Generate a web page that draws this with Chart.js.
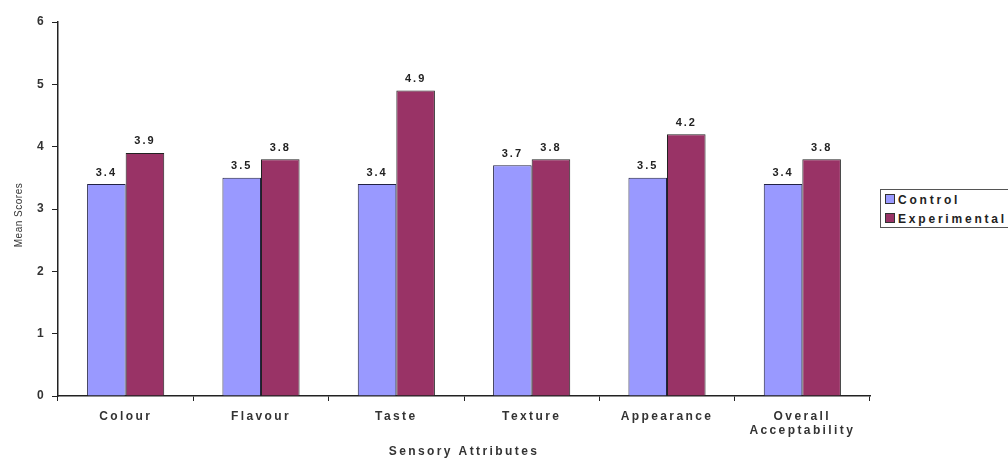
<!DOCTYPE html>
<html><head><meta charset="utf-8">
<script src="https://cdn.jsdelivr.net/npm/chart.js@4/dist/chart.umd.min.js"></script>
<style>
html,body{margin:0;padding:0;background:#fff;}
#wrap{position:relative;width:1008px;height:459px;overflow:hidden;}
#legend{position:absolute;left:880px;top:189px;width:150px;height:39px;border:1px solid #555;box-sizing:border-box;font:bold 12px "Liberation Sans",Arial,sans-serif;color:#222;letter-spacing:2.8px;padding:1px 0 0 4px;background:#fff;}
#legend div{height:19px;line-height:19px;white-space:nowrap;}
#legend span{display:inline-block;width:8px;height:8px;border:1px solid #333;margin-right:3px;vertical-align:0px;}
</style></head>
<body><div id="wrap"><canvas id="c" width="1008" height="459"></canvas>
<div id="legend"></div></div>
<script>
const categories = ["Colour","Flavour","Taste","Texture","Appearance",["Overall","Acceptability"]];
const seriesNames = ["Control","Experimental"];
const controlValues = [3.4,3.5,3.4,3.7,3.5,3.4];
const experimentalValues = [3.9,3.8,4.9,3.8,4.2,3.8];
const yTicks = [0,1,2,3,4,5,6];
const xTitle = "Sensory Attributes";
const yTitle = "Mean Scores";
const colors = ["#9999FF","#993366"];
const FONT = '"Liberation Sans", Arial, sans-serif';

const lg = document.getElementById('legend');
seriesNames.forEach((n,i)=>{const d=document.createElement('div');d.innerHTML='<span style="background:'+colors[i]+'"></span>'+n;lg.appendChild(d);});

const spacing = {
  id:'spacing',
  beforeDraw(chart){ chart.ctx.letterSpacing='2.4px'; },
  afterDraw(chart){
    const ctx=chart.ctx;ctx.save();
    ctx.letterSpacing='0.5px';
    ctx.font='10px '+FONT;ctx.fillStyle='#333';
    ctx.textAlign='center';ctx.textBaseline='middle';
    ctx.translate(19,(chart.chartArea.top+chart.chartArea.bottom)/2+6);
    ctx.rotate(-Math.PI/2);
    ctx.fillText(yTitle,0,0);
    ctx.restore();
    ctx.letterSpacing='0px';
  }
};

const valueLabels = {
  id:'valueLabels',
  afterDatasetsDraw(chart){
    const ctx=chart.ctx;ctx.save();
    ctx.letterSpacing='2px';
    ctx.font='bold 11px '+FONT;
    ctx.fillStyle='#222';ctx.textAlign='center';ctx.textBaseline='bottom';
    chart.data.datasets.forEach((ds,di)=>{
      chart.getDatasetMeta(di).data.forEach((bar,i)=>{
        ctx.fillText(ds.data[i].toFixed(1),bar.x,bar.y-6);
      });
    });
    ctx.restore();
  }
};

new Chart(document.getElementById('c'),{
  type:'bar',
  data:{labels:categories,datasets:[
    {label:seriesNames[0],data:controlValues,backgroundColor:colors[0],borderColor:'#222244',borderWidth:1},
    {label:seriesNames[1],data:experimentalValues,backgroundColor:colors[1],borderColor:'#222',borderWidth:1}
  ]},
  options:{
    responsive:false,animation:false,
    layout:{padding:{left:0,right:138,top:22,bottom:0}},
    categoryPercentage:0.57,barPercentage:1.0,
    plugins:{legend:{display:false},tooltip:{enabled:false}},
    scales:{
      x:{
        grid:{display:true,drawOnChartArea:false,color:'#222',tickLength:5,offset:true},
        border:{display:true,color:'#222',width:1.5},
        ticks:{color:'#333',padding:8,font:{family:FONT,size:12,weight:'bold'},maxRotation:0,autoSkip:false},
        title:{display:true,text:xTitle,color:'#333',font:{family:FONT,size:12,weight:'bold'},padding:{top:0,bottom:0}},
        afterFit(s){s.height=63;}
      },
      y:{
        min:0,max:6,
        afterBuildTicks(s){s.ticks=yTicks.map(v=>({value:v}));},
        grid:{display:true,drawOnChartArea:false,color:'#222',tickLength:6},
        border:{display:true,color:'#222',width:1.5},
        ticks:{color:'#333',padding:6,font:{family:FONT,size:12,weight:'bold'}},
        title:{display:false},
        afterFit(s){s.width=58;}
      }
    }
  },
  plugins:[spacing,valueLabels]
});
</script></body></html>
